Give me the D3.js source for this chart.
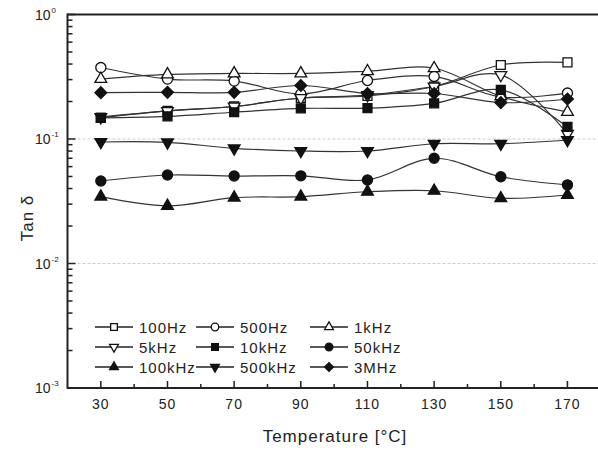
<!DOCTYPE html>
<html><head><meta charset="utf-8">
<script src="https://cdn.jsdelivr.net/npm/d3@7/dist/d3.min.js"></script>
<style>body{margin:0;background:#fff}svg{display:block}text{font-family:"Liberation Sans",Arial,sans-serif;fill:#222}</style>
</head><body><svg id="c" width="598" height="451"></svg>
<script>
const temps = [30, 50, 70, 90, 110, 130, 150, 170];
const s100Hz  = [0.148, 0.168, 0.1825, 0.2135, 0.2215, 0.264, 0.393, 0.412];
const s500Hz  = [0.375, 0.303, 0.292, 0.230, 0.295, 0.318, 0.2175, 0.234];
const s1kHz   = [0.303, 0.330, 0.336, 0.336, 0.350, 0.370, 0.220, 0.165];
const s5kHz   = [0.150, 0.168, 0.1825, 0.2135, 0.225, 0.264, 0.327, 0.110];
const s10kHz  = [0.148, 0.152, 0.164, 0.176, 0.177, 0.1935, 0.248, 0.125];
const s50kHz  = [0.046, 0.0514, 0.0504, 0.0506, 0.0469, 0.070, 0.0498, 0.0428];
const s100kHz = [0.0344, 0.029, 0.0338, 0.0344, 0.0377, 0.0384, 0.0334, 0.0355];
const s500kHz = [0.0946, 0.094, 0.0842, 0.0801, 0.0801, 0.0916, 0.0916, 0.0982];
const s3MHz   = [0.2355, 0.237, 0.237, 0.269, 0.232, 0.232, 0.196, 0.2096];
const seriesNames = ["100Hz","500Hz","1kHz","5kHz","10kHz","50kHz","100kHz","500kHz","3MHz"];
const seriesVals = [s100Hz,s500Hz,s1kHz,s5kHz,s10kHz,s50kHz,s100kHz,s500kHz,s3MHz];
const seriesMarks = ["squareOpen","circleOpen","triUpOpen","triDownOpen","square","circle","triUp","triDown","diamond"];
const xTicks = [30,50,70,90,110,130,150,170];
const yTicks = [1e-3,1e-2,1e-1,1];
const yExp = ["-3","-2","-1","0"];

const svg = d3.select("#c");
const x = d3.scaleLinear().domain([20,180]).range([67.5,600.8]);
const y = d3.scaleLog().domain([1e-3,1]).range([388,14.5]);

// faint scan gridlines at decades
[1e-1,1e-2].forEach(v=>{
  svg.append("line").attr("x1",x(20)).attr("x2",598).attr("y1",y(v)).attr("y2",y(v))
    .attr("stroke","#ccc").attr("stroke-width",1).attr("stroke-dasharray","3,2");
});

// axes frame
svg.append("line").attr("x1",x(20)).attr("x2",598).attr("y1",y(1)).attr("y2",y(1)).attr("stroke","#222").attr("stroke-width",2);
svg.append("line").attr("x1",x(20)).attr("x2",598).attr("y1",y(1e-3)).attr("y2",y(1e-3)).attr("stroke","#222").attr("stroke-width",2);
svg.append("line").attr("x1",x(20)).attr("x2",x(20)).attr("y1",y(1)-1).attr("y2",y(1e-3)+1).attr("stroke","#222").attr("stroke-width",2);

// x ticks
const xMinor = d3.range(40,180,20);
xTicks.forEach(t=>{
  svg.append("line").attr("x1",x(t)).attr("x2",x(t)).attr("y1",y(1e-3)).attr("y2",y(1e-3)-7).attr("stroke","#222").attr("stroke-width",1.5);
  svg.append("text").attr("x",x(t)).attr("y",409).attr("text-anchor","middle").attr("font-size",14).attr("letter-spacing",1).text(t);
});
xMinor.forEach(t=>{
  svg.append("line").attr("x1",x(t)).attr("x2",x(t)).attr("y1",y(1e-3)).attr("y2",y(1e-3)-4).attr("stroke","#222").attr("stroke-width",1.5);
});
// y ticks
yTicks.forEach((v,i)=>{
  svg.append("line").attr("x1",x(20)).attr("x2",x(20)+8).attr("y1",y(v)).attr("y2",y(v)).attr("stroke","#222").attr("stroke-width",1.5);
  const t = svg.append("text").attr("x",35).attr("y",y(v)+5).attr("text-anchor","start").attr("font-size",14);
  t.append("tspan").text("10");
  t.append("tspan").attr("font-size",8).attr("dy",-7).attr("dx",1).text(yExp[i]);
});
[1e-3,1e-2,1e-1].forEach(d=>{
  for(let k=2;k<=9;k++){
    svg.append("line").attr("x1",x(20)).attr("x2",x(20)+5).attr("y1",y(d*k)).attr("y2",y(d*k)).attr("stroke","#222").attr("stroke-width",1.5);
  }
});

// axis titles
svg.append("text").attr("x",335).attr("y",442).attr("text-anchor","middle").attr("font-size",17).attr("letter-spacing",1).text("Temperature [°C]");
svg.append("text").attr("transform","translate(33,218) rotate(-90)").attr("text-anchor","middle").attr("font-size",17).attr("letter-spacing",1).text("Tan δ");

function drawMarker(g, type, cx, cy, sc){
  const open = type.endsWith("Open");
  const base = type.replace("Open","");
  let p;
  if(base==="square") p = d3.symbol(d3.symbolSquare, 80*sc*sc)();
  else if(base==="circle") p = d3.symbol(d3.symbolCircle, 80*sc*sc)();
  else if(base==="triUp"||base==="triDown") p = d3.symbol(d3.symbolTriangle, 60*sc*sc)();
  else if(base==="diamond") p = d3.symbol(d3.symbolSquare, 70*sc*sc)();
  let rot = base==="triDown"?180:(base==="diamond"?45:0);
  g.append("path").attr("d",p).attr("transform",`translate(${cx},${cy}) rotate(${rot})`)
    .attr("fill",open?"#fff":"#111").attr("stroke","#111").attr("stroke-width",1.3);
}

const line = d3.line().x((d,i)=>x(temps[i])).y(d=>y(d)).curve(d3.curveCatmullRom.alpha(0.5));
const gL = svg.append("g");
const gM = svg.append("g");
seriesVals.forEach((vals,si)=>{
  gL.append("path").attr("d",line(vals)).attr("fill","none").attr("stroke","#333").attr("stroke-width",1.2);
});
seriesVals.forEach((vals,si)=>{
  vals.forEach((v,i)=>drawMarker(gM, seriesMarks[si], x(temps[i]), y(v), 1));
});

// legend
const legX = [95, 196, 310];
const legY = [327, 347, 367];
seriesNames.forEach((n,i)=>{
  const cx = legX[i%3], cy = legY[Math.floor(i/3)];
  svg.append("line").attr("x1",cx).attr("x2",cx+38).attr("y1",cy).attr("y2",cy).attr("stroke","#222").attr("stroke-width",1.3);
  drawMarker(svg, seriesMarks[i], cx+19, cy, 0.75);
  svg.append("text").attr("x",cx+44).attr("y",cy+5.5).attr("font-size",15).attr("letter-spacing",1).text(n);
});
</script></body></html>
